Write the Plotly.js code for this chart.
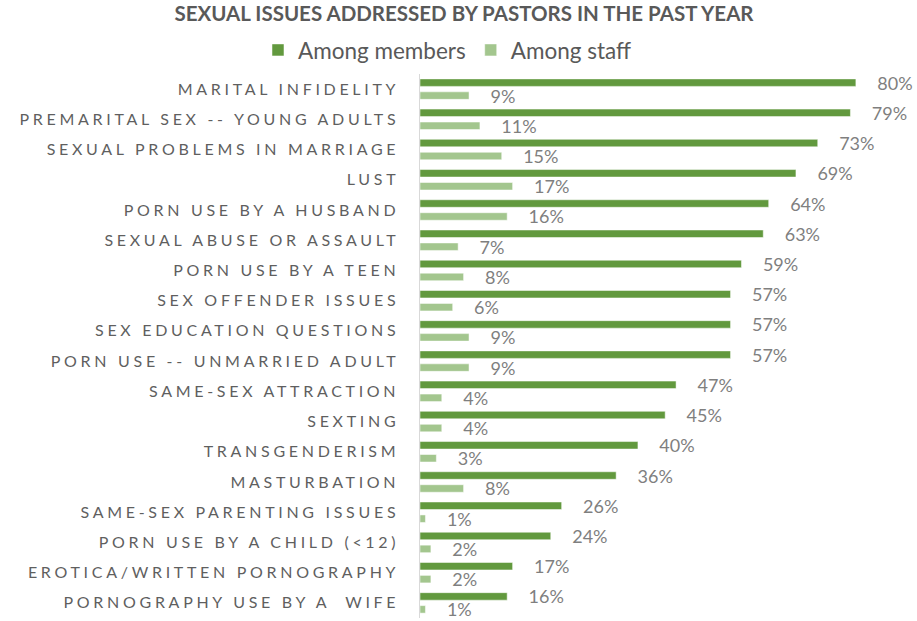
<!DOCTYPE html>
<html>
<head>
<meta charset="utf-8">
<script src="https://cdn.plot.ly/plotly-3.0.1.min.js"></script>
<style>
  html, body { margin: 0; padding: 0; background: #fff; }
  #chart { width: 917px; height: 621px; }
  .ytick text { letter-spacing: 3.7px; }
</style>
</head>
<body>
<div id="chart"></div>
<script>
const categories = [
  "MARITAL INFIDELITY",
  "PREMARITAL SEX -- YOUNG ADULTS",
  "SEXUAL PROBLEMS IN MARRIAGE",
  "LUST",
  "PORN USE BY A HUSBAND",
  "SEXUAL ABUSE OR ASSAULT",
  "PORN USE BY A TEEN",
  "SEX OFFENDER ISSUES",
  "SEX EDUCATION QUESTIONS",
  "PORN USE -- UNMARRIED ADULT",
  "SAME-SEX ATTRACTION",
  "SEXTING",
  "TRANSGENDERISM",
  "MASTURBATION",
  "SAME-SEX PARENTING ISSUES",
  "PORN USE BY A CHILD (<12)",
  "EROTICA/WRITTEN PORNOGRAPHY",
  "PORNOGRAPHY USE BY A  WIFE"
];
const amongMembers = [80, 79, 73, 69, 64, 63, 59, 57, 57, 57, 47, 45, 40, 36, 26, 24, 17, 16];
const amongStaff   = [9, 11, 15, 17, 16, 7, 8, 6, 9, 9, 4, 4, 3, 8, 1, 2, 2, 1];
const seriesNames = ["Among members", "Among staff"];

const FONT = "Lato, 'Open Sans', sans-serif";

function barTrace(name, values, color) {
  return {
    type: "bar", orientation: "h", name: name,
    y: categories, x: values,
    marker: { color: color, line: { color: "#ffffff", width: 0.5 } },
    texttemplate: "\u00a0\u00a0\u00a0\u00a0%{x}%", textposition: "outside",
    cliponaxis: false, constraintext: "none",
    textfont: { family: FONT, size: 18, color: "#7f7f7f" },
    hoverinfo: "skip"
  };
}

const traces = [
  barTrace(seriesNames[0], amongMembers, "#62993e"),
  barTrace(seriesNames[1], amongStaff, "#a3c68e")
];

const layout = {
  width: 917, height: 621,
  paper_bgcolor: "#ffffff", plot_bgcolor: "#ffffff",
  margin: { l: 420, r: 5, t: 74, b: 3, autoexpand: false },
  barmode: "group",
  bargap: 0.143,
  bargroupgap: 0.42,
  font: { family: FONT, color: "#595959" },
  title: {
    text: "<b>SEXUAL ISSUES ADDRESSED BY PASTORS IN THE PAST YEAR</b>",
    font: { family: FONT, size: 20.5, color: "#595959" },
    xref: "container", x: 0.506, xanchor: "center",
    yref: "container", y: 0.977, yanchor: "middle"
  },
  legend: {
    orientation: "h",
    xref: "container", x: 0.488, xanchor: "center",
    yref: "container", y: 0.919, yanchor: "middle",
    font: { family: FONT, size: 22.5, color: "#595959" },
    itemwidth: 30, tracegroupgap: 0
  },
  xaxis: {
    visible: false, range: [0, 90.3], fixedrange: true
  },
  yaxis: {
    type: "category", autorange: "reversed",
    showline: true, linecolor: "#d9d9d9", linewidth: 1.5,
    showgrid: false, zeroline: false, ticks: "",
    ticklabelstandoff: 16,
    tickfont: { family: FONT, size: 16, color: "#5f5f5f" },
    automargin: false
  },
  showlegend: true
};

Plotly.newPlot("chart", traces, layout, { displayModeBar: false, staticPlot: true });
</script>
</body>
</html>
